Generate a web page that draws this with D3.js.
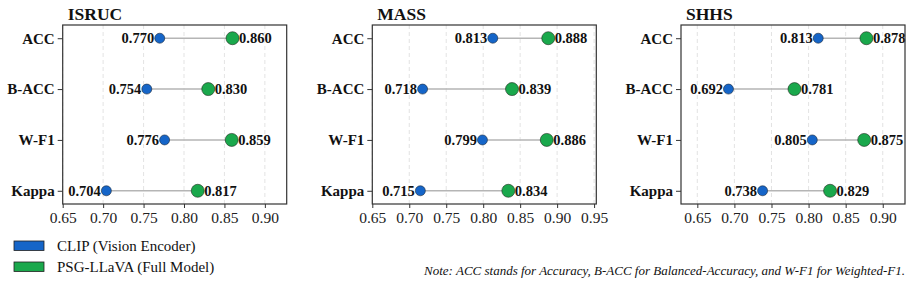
<!DOCTYPE html>
<html>
<head>
<meta charset="utf-8">
<script src="https://cdn.jsdelivr.net/npm/d3@7"></script>
<style>
  html, body { margin: 0; padding: 0; background: #fff; }
  svg { display: block; font-family: "Liberation Serif", "Times New Roman", serif; }
  .grid line { stroke: #dcdcdc; stroke-dasharray: 4 3; stroke-width: 0.8; }
  .x-axis, .y-axis { font-family: "Liberation Serif", "Times New Roman", serif; }
  .x-axis text { font-size: 15.5px; fill: #222; }
  .y-axis text { font-size: 15px; font-weight: bold; fill: #111; }
  .x-axis line, .y-axis line { stroke: #333; }
  .x-axis path, .y-axis path { display: none; }
  .frame { fill: none; stroke: #333; stroke-width: 1.2; }
  .value-label { font-size: 14.5px; font-weight: bold; fill: #111; }
  .panel-title { font-size: 17.5px; font-weight: bold; fill: #111; }
  .legend-text { font-size: 15px; fill: #111; }
  .note { font-size: 13px; font-style: italic; fill: #111; }
</style>
</head>
<body>
<svg id="chart" width="913" height="290"></svg>
<script>
const METRICS = ["ACC", "B-ACC", "W-F1", "Kappa"];
const DATASETS = ["ISRUC", "MASS", "SHHS"];

const CLIP_ISRUC = [0.770, 0.754, 0.776, 0.704];
const FULL_ISRUC = [0.860, 0.830, 0.859, 0.817];
const CLIP_MASS = [0.813, 0.718, 0.799, 0.715];
const FULL_MASS = [0.888, 0.839, 0.886, 0.834];
const CLIP_SHHS = [0.813, 0.692, 0.805, 0.738];
const FULL_SHHS = [0.878, 0.781, 0.875, 0.829];

const TICKS_ISRUC = [0.65, 0.70, 0.75, 0.80, 0.85, 0.90];
const TICKS_MASS = [0.65, 0.70, 0.75, 0.80, 0.85, 0.90, 0.95];
const TICKS_SHHS = [0.65, 0.70, 0.75, 0.80, 0.85, 0.90];

const LEGEND_LABELS = ["CLIP (Vision Encoder)", "PSG-LLaVA (Full Model)"];
const NOTE = "Note: ACC stands for Accuracy, B-ACC for Balanced-Accuracy, and W-F1 for Weighted-F1.";

const BLUE = "#1565c8";
const GREEN = "#1aa84c";

// per-panel layout: left edge of the frame and the x range it shows
const panels = [
  { name: "ISRUC", clip: CLIP_ISRUC, full: FULL_ISRUC, ticks: TICKS_ISRUC, left: 62.7, domain: [0.65, 0.927] },
  { name: "MASS", clip: CLIP_MASS, full: FULL_MASS, ticks: TICKS_MASS, left: 372.3, domain: [0.65, 0.953] },
  { name: "SHHS", clip: CLIP_SHHS, full: FULL_SHHS, ticks: TICKS_SHHS, left: 681, domain: [0.628, 0.93] }
];

const PANEL_W = 224;
const TOP = 25;
const BOTTOM = 204;

const svg = d3.select("#chart");

function drawPanel(p) {
  const g = svg.append("g").attr("transform", `translate(${p.left},0)`);

  const x = d3.scaleLinear().domain(p.domain).range([0, PANEL_W]);
  const y = d3.scaleLinear().domain([-0.26, 3.26]).range([TOP, BOTTOM]);

  g.append("g").attr("class", "grid")
    .selectAll("line")
    .data(p.ticks)
    .join("line")
    .attr("x1", d => x(d)).attr("x2", d => x(d))
    .attr("y1", TOP).attr("y2", BOTTOM);

  const xAxis = d3.axisBottom(x)
    .tickValues(p.ticks)
    .tickFormat(d3.format(".2f"))
    .tickSize(4)
    .tickPadding(4);
  g.append("g").attr("class", "x-axis")
    .attr("transform", `translate(0,${BOTTOM})`)
    .call(xAxis)
    .attr("font-family", null);

  const yAxis = d3.axisLeft(y)
    .tickValues(d3.range(METRICS.length))
    .tickFormat(i => METRICS[i])
    .tickSize(5)
    .tickPadding(3);
  g.append("g").attr("class", "y-axis").call(yAxis)
    .attr("font-family", null);

  const rows = METRICS.map((m, i) => ({ metric: m, i, clip: p.clip[i], full: p.full[i] }));

  g.append("g").selectAll("line")
    .data(rows)
    .join("line")
    .attr("x1", d => x(d.clip)).attr("x2", d => x(d.full))
    .attr("y1", d => y(d.i)).attr("y2", d => y(d.i))
    .attr("stroke", "#b5b5b5")
    .attr("stroke-width", 1.6);

  g.append("g").selectAll("circle")
    .data(rows)
    .join("circle")
    .attr("cx", d => x(d.clip))
    .attr("cy", d => y(d.i))
    .attr("r", 5)
    .attr("fill", BLUE)
    .attr("stroke", "#1d2a3a")
    .attr("stroke-width", 0.6);

  g.append("g").selectAll("circle")
    .data(rows)
    .join("circle")
    .attr("cx", d => x(d.full))
    .attr("cy", d => y(d.i))
    .attr("r", 6.5)
    .attr("fill", GREEN)
    .attr("stroke", "#1d2a1d")
    .attr("stroke-width", 0.6);

  g.append("g").selectAll("text")
    .data(rows)
    .join("text")
    .attr("class", "value-label")
    .attr("x", d => x(d.clip) - 5.5)
    .attr("y", d => y(d.i))
    .attr("dy", "0.35em")
    .attr("text-anchor", "end")
    .text(d => d.clip.toFixed(3));

  g.append("g").selectAll("text")
    .data(rows)
    .join("text")
    .attr("class", "value-label")
    .attr("x", d => x(d.full) + 6.5)
    .attr("y", d => y(d.i))
    .attr("dy", "0.35em")
    .text(d => d.full.toFixed(3));

  g.append("rect")
    .attr("class", "frame")
    .attr("x", 0).attr("y", TOP)
    .attr("width", PANEL_W).attr("height", BOTTOM - TOP);

  g.append("text")
    .attr("class", "panel-title")
    .attr("x", 5)
    .attr("y", 19.5)
    .text(p.name);
}

panels.forEach(drawPanel);

// legend
const legend = svg.append("g").attr("transform", "translate(14,241)");
[BLUE, GREEN].forEach((color, i) => {
  const row = legend.append("g").attr("transform", `translate(0,${i * 21})`);
  row.append("rect")
    .attr("width", 30).attr("height", 9.5)
    .attr("fill", color)
    .attr("stroke", "#222")
    .attr("stroke-width", 0.8);
  row.append("text")
    .attr("class", "legend-text")
    .attr("x", 43).attr("y", 5)
    .attr("dy", "0.35em")
    .text(LEGEND_LABELS[i]);
});

svg.append("text")
  .attr("class", "note")
  .attr("x", 905)
  .attr("y", 275)
  .attr("text-anchor", "end")
  .text(NOTE);
</script>
</body>
</html>
